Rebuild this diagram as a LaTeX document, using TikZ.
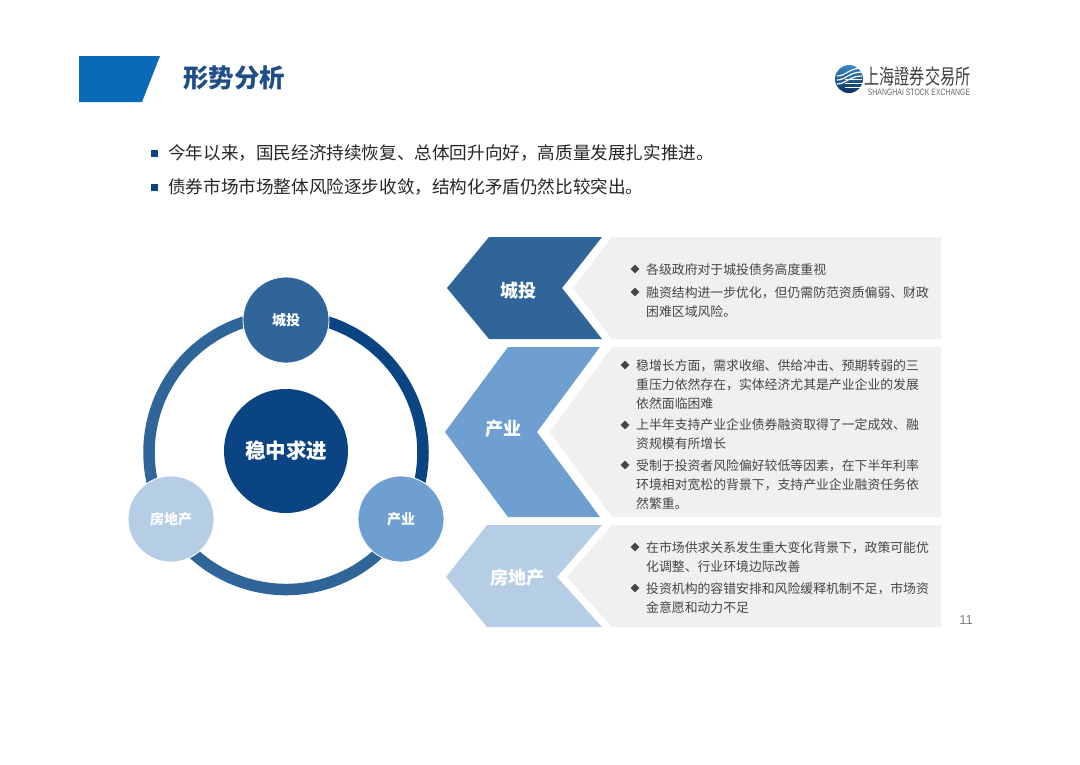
\documentclass[tikz,border=0pt]{standalone}
\usepackage{fontspec}
\setmainfont{Noto Sans CJK SC}
\newfontfamily\latinfont{Liberation Sans}
\usetikzlibrary{shapes.geometric}
\usetikzlibrary{calc}
\definecolor{headblue}{HTML}{0A69B8}
\definecolor{titleblue}{HTML}{1F4E87}
\definecolor{hubblue}{HTML}{0B4483}
\definecolor{ctblue}{HTML}{2F6598}
\definecolor{cyblue}{HTML}{6F9FD0}
\definecolor{fdcblue}{HTML}{B5CEE6}
\definecolor{panelgrey}{HTML}{F0F0F0}
\definecolor{bodygrey}{HTML}{454545}
\tikzset{
	orb/.style={circle, draw=white, line width=0.8pt, minimum size=86pt, inner sep=0pt, text=white, font=\fontsize{14}{16}\selectfont\bfseries},
	ringarc/.style={line width=11.5pt},
	tag/.style={text=white, inner sep=0pt, font=\fontsize{18}{20}\selectfont\bfseries},
	lead/.style={anchor=west, inner sep=0pt, text=black!85, font=\fontsize{17.6}{20}\selectfont},
	leadmark/.style={fill=hubblue, minimum size=7pt, inner sep=0pt},
	point/.style={anchor=north west, inner sep=0pt, align=left, text=bodygrey, font=\fontsize{12.85}{19}\selectfont},
	pointmark/.style={diamond, fill=bodygrey, minimum size=9pt, inner sep=0pt}
}
\begin{document}
\begin{tikzpicture}[x=1pt,y=-1pt]
	\useasboundingbox (0,0) rectangle (1080,764);
	% header
	\fill[headblue] (79,56) -- (160,56) -- (142,102) -- (79,102) -- cycle;
	\node[text=titleblue, inner sep=0pt, font=\fontsize{25.5}{28}\selectfont\bfseries] (title) at (234,78) {形势分析};
	% logo
	\node[circle, minimum size=28pt, inner sep=0pt, top color=headblue!80, bottom color=hubblue!70!black] (globe) at (849,79) {};
	\foreach \y in {-3,1,5} {
		\draw[white, line width=1.2pt] ($(globe)+(-12,\y)$) .. controls ($(globe)+(-3,\y)$) and ($(globe)+(0,\y-8)$) .. ($(globe)+(13,\y-8)$);
		\draw[white, line width=1pt] ($(globe)+(-4,\y+3)$) -- ($(globe)+(13,\y+3)$);
	}
	\node[inner sep=0pt, xscale=0.72, text=black!75, font=\fontsize{21}{23}\selectfont] (sse) at (917.5,76) {上海證券交易所};
	\node[inner sep=0pt, text=black!60, xscale=0.75, font=\latinfont\fontsize{9.2}{10}\selectfont] (sseen) at (919,92.5) {SHANGHAI STOCK EXCHANGE};
	% lead lines
	\node[leadmark] (m1) at (154,153) {};
	\node[lead] (l1) at (168,153) {今年以来，国民经济持续恢复、总体回升向好，高质量发展扎实推进。};
	\node[leadmark] (m2) at (154,187) {};
	\node[lead] (l2) at (168,187) {债券市场市场整体风险逐步收敛，结构化矛盾仍然比较突出。};
	% panels and arrows
	\fill[panelgrey] (612,237) -- (941,237) -- (941,339) -- (612,339) -- (573,288) -- cycle;
	\fill[panelgrey] (612,347) -- (941,347) -- (941,517) -- (612,517) -- (550,432) -- cycle;
	\fill[panelgrey] (612,525) -- (941,525) -- (941,627) -- (612,627) -- (567,577) -- cycle;
	\fill[ctblue] (447,288) -- (489,237) -- (602,237) -- (562,288) -- (602,339) -- (489,339) -- cycle;
	\fill[cyblue] (445,432) -- (508,347) -- (600,347) -- (537,432) -- (600,517) -- (508,517) -- cycle;
	\fill[fdcblue] (446,577) -- (487,525) -- (602,525) -- (557,577) -- (602,627) -- (487,627) -- cycle;
	\node[tag] (tag1) at (518,291) {城投};
	\node[tag] (tag2) at (503,429) {产业};
	\node[tag] (tag3) at (517,578) {房地产};
	% panel text
	\node[pointmark] (d1) at (635,269) {};
	\node[point] (t1) at (646,263) {各级政府对于城投债务高度重视};
	\node[pointmark] (d2) at (635,292) {};
	\node[point] (t2) at (646,286) {融资结构进一步优化，但仍需防范资质偏弱、财政\\困难区域风险。};
	\node[pointmark] (d3) at (625,365) {};
	\node[point] (t3) at (636,359.5) {稳增长方面，需求收缩、供给冲击、预期转弱的三\\重压力依然存在，实体经济尤其是产业企业的发展\\依然面临困难};
	\node[pointmark] (d4) at (625,425) {};
	\node[point] (t4) at (636,418.5) {上半年支持产业企业债券融资取得了一定成效、融\\资规模有所增长};
	\node[pointmark] (d5) at (625,465) {};
	\node[point] (t5) at (636,459.5) {受制于投资者风险偏好较低等因素，在下半年利率\\环境相对宽松的背景下，支持产业企业融资任务依\\然繁重。};
	\node[pointmark] (d6) at (635,547) {};
	\node[point] (t6) at (646,541.5) {在市场供求关系发生重大变化背景下，政策可能优\\化调整、行业环境边际改善};
	\node[pointmark] (d7) at (635,588) {};
	\node[point] (t7) at (646,582) {投资机构的容错安排和风险缓释机制不足，市场资\\金意愿和动力不足};
	\node[text=black!50, inner sep=0pt, font=\latinfont\fontsize{13}{15}\selectfont] (page) at (966,620.5) {11};
	% ring
	\coordinate (ringc) at (286,452.5);
	\node[circle, fill=hubblue, minimum size=124pt, inner sep=0pt, text=white, font=\fontsize{20.5}{23}\selectfont\bfseries] (hub) at (286,451) {稳中求进};
	\draw[ringarc, hubblue] ($(ringc)+(90:137pt)$) arc[start angle=90, end angle=-30, radius=137pt];
	\draw[ringarc, ctblue] ($(ringc)+(90:137pt)$) arc[start angle=90, end angle=210, radius=137pt];
	\draw[ringarc, ctblue] ($(ringc)+(210:137pt)$) arc[start angle=210, end angle=330, radius=137pt];
	\node[orb, fill=ctblue] (ct) at (286,320) {城投};
	\node[orb, fill=cyblue] (cy) at (401,519) {产业};
	\node[orb, fill=fdcblue] (fdc) at (171,519) {房地产};
\end{tikzpicture}
\end{document}
